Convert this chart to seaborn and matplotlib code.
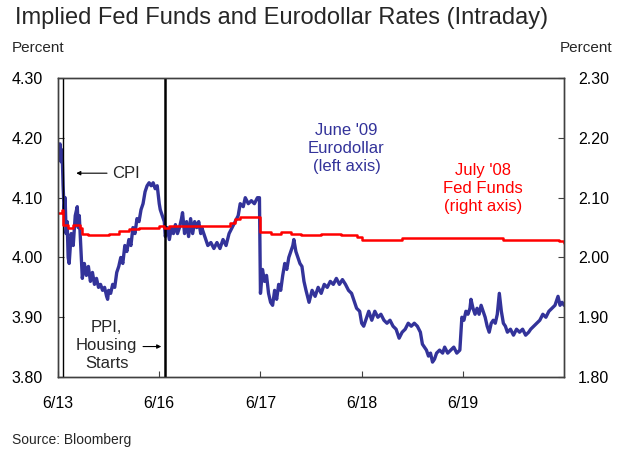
import numpy as np
import pandas as pd
import matplotlib
matplotlib.use("Agg")
import matplotlib.pyplot as plt
import seaborn as sns

# ------------------------------------------------------------
# data (time in trading days from 6/13 open)
# ------------------------------------------------------------
ed_t = [0.00, 0.01, 0.02, 0.03, 0.04, 0.05, 0.06, 0.07, 0.08, 0.09, 0.10, 0.11,
        0.13, 0.15, 0.17, 0.19, 0.20, 0.21, 0.23, 0.24, 0.26, 0.28, 0.30, 0.32,
        0.34, 0.36, 0.38, 0.40, 0.42, 0.44, 0.46, 0.48, 0.49, 0.50, 0.52, 0.54,
        0.56, 0.58, 0.60, 0.62, 0.64, 0.66, 0.68, 0.70, 0.72, 0.74, 0.76, 0.78,
        0.80, 0.82, 0.84, 0.86, 0.88, 0.90, 0.92, 0.94, 0.96, 0.98, 1.00, 1.01,
        1.03, 1.05, 1.06, 1.08, 1.10, 1.12, 1.14, 1.16, 1.18, 1.20, 1.22, 1.23,
        1.25, 1.27, 1.29, 1.31, 1.33, 1.35, 1.37, 1.39, 1.41, 1.42, 1.45, 1.48,
        1.51, 1.54, 1.57, 1.60, 1.63, 1.66, 1.69, 1.72, 1.75, 1.78, 1.80, 1.83,
        1.85, 1.88, 1.91, 1.94, 1.97, 1.99, 2.00, 2.02, 2.04, 2.06, 2.08, 2.10,
        2.12, 2.14, 2.16, 2.18, 2.20, 2.22, 2.24, 2.26, 2.28, 2.30, 2.32, 2.33,
        2.35, 2.37, 2.39, 2.41, 2.43, 2.45, 2.48, 2.51, 2.54, 2.57, 2.60, 2.63,
        2.66, 2.69, 2.72, 2.75, 2.78, 2.81, 2.84, 2.87, 2.90, 2.92, 2.95, 2.98,
        3.00, 3.02, 3.04, 3.07, 3.10, 3.13, 3.16, 3.19, 3.22, 3.25, 3.28, 3.31,
        3.34, 3.37, 3.40, 3.43, 3.46, 3.49, 3.52, 3.55, 3.58, 3.60, 3.62, 3.64,
        3.66, 3.68, 3.70, 3.72, 3.74, 3.77, 3.80, 3.82, 3.85, 3.88, 3.91, 3.94,
        3.97, 3.99, 4.01, 4.03, 4.05, 4.07, 4.08, 4.10, 4.12, 4.14, 4.16, 4.18,
        4.20, 4.22, 4.24, 4.26, 4.28, 4.30, 4.32, 4.34, 4.36, 4.38, 4.40, 4.42,
        4.44, 4.47, 4.50, 4.53, 4.56, 4.59, 4.62, 4.65, 4.67, 4.70, 4.73, 4.76,
        4.79, 4.82, 4.85, 4.88, 4.91, 4.94, 4.96, 4.98, 5.00]
ed_rate = [4.19, 4.17, 4.19, 4.16, 4.18, 4.12, 4.08, 4.10, 4.04, 4.06, 4.00, 3.99,
           4.04, 4.02, 4.07, 4.085, 4.05, 4.07, 4.00, 3.965, 3.99, 3.97, 3.985, 3.96,
           3.975, 3.955, 3.965, 3.95, 3.955, 3.945, 3.95, 3.935, 3.93, 3.945, 3.94, 3.955,
           3.95, 3.975, 3.985, 4.00, 3.99, 4.02, 4.01, 4.03, 4.02, 4.05, 4.04, 4.065,
           4.06, 4.08, 4.09, 4.11, 4.12, 4.125, 4.12, 4.125, 4.115, 4.12, 4.09, 4.08,
           4.07, 4.06, 4.035, 4.05, 4.03, 4.05, 4.04, 4.055, 4.04, 4.05, 4.065, 4.075,
           4.04, 4.06, 4.035, 4.065, 4.04, 4.06, 4.05, 4.06, 4.04, 4.05, 4.035, 4.02,
           4.025, 4.015, 4.025, 4.015, 4.03, 4.02, 4.04, 4.05, 4.06, 4.07, 4.09, 4.085,
           4.10, 4.09, 4.095, 4.09, 4.10, 4.10, 3.94, 3.98, 3.96, 3.97, 3.94, 3.925,
           3.92, 3.945, 3.93, 3.955, 3.945, 3.97, 3.99, 3.98, 4.00, 4.01, 4.02, 4.03,
           4.01, 4.00, 3.99, 3.985, 3.96, 3.945, 3.925, 3.945, 3.935, 3.95, 3.94, 3.955,
           3.95, 3.96, 3.955, 3.965, 3.955, 3.963, 3.955, 3.945, 3.94, 3.93, 3.915, 3.91,
           3.89, 3.885, 3.895, 3.91, 3.895, 3.91, 3.90, 3.905, 3.895, 3.89, 3.895, 3.885,
           3.88, 3.865, 3.875, 3.88, 3.89, 3.885, 3.89, 3.885, 3.875, 3.855, 3.85, 3.845,
           3.835, 3.84, 3.825, 3.83, 3.84, 3.845, 3.84, 3.85, 3.84, 3.845, 3.85, 3.84,
           3.845, 3.90, 3.895, 3.91, 3.905, 3.915, 3.93, 3.915, 3.905, 3.915, 3.905, 3.92,
           3.91, 3.90, 3.885, 3.875, 3.89, 3.895, 3.89, 3.905, 3.94, 3.91, 3.89, 3.885,
           3.875, 3.88, 3.87, 3.88, 3.875, 3.88, 3.87, 3.875, 3.88, 3.885, 3.89, 3.895,
           3.905, 3.90, 3.91, 3.915, 3.92, 3.935, 3.92, 3.925, 3.92]

ff_t = [0.00, 0.04, 0.05, 0.10, 0.15, 0.22, 0.24, 0.30, 0.40, 0.50, 0.60, 0.70,
        0.80, 0.90, 1.00, 1.05, 1.10, 1.30, 1.50, 1.70, 1.75, 1.80, 1.95, 2.00,
        2.10, 2.20, 2.30, 2.40, 2.60, 2.80, 2.95, 3.00, 3.20, 3.40, 3.60, 3.80,
        4.00, 4.20, 4.40, 4.60, 4.80, 4.95, 5.00]
ff_rate = [2.075, 2.08, 2.055, 2.05, 2.055, 2.05, 2.04, 2.037, 2.038, 2.04, 2.045, 2.047,
           2.05, 2.05, 2.052, 2.05, 2.052, 2.053, 2.053, 2.058, 2.065, 2.068, 2.068, 2.042,
           2.04, 2.042, 2.04, 2.037, 2.04, 2.038, 2.035, 2.03, 2.03, 2.032, 2.032, 2.033,
           2.032, 2.033, 2.03, 2.03, 2.03, 2.028, 2.025]

day_ticks = [0, 1, 2, 3, 4]
day_labels = ["6/13", "6/16", "6/17", "6/18", "6/19"]
left_ticks = [3.80, 3.90, 4.00, 4.10, 4.20, 4.30]
right_ticks = [1.80, 1.90, 2.00, 2.10, 2.20, 2.30]
events = [0.05, 1.06]

BLUE = "#33339A"
RED = "#FF0000"

sns.set_style("ticks")
plt.rcParams["font.family"] = ["Liberation Sans", "DejaVu Sans"]
plt.rcParams.update({
    "axes.edgecolor": "#404040",
    "axes.linewidth": 1.0,
    "xtick.direction": "in",
    "ytick.direction": "in",
    "xtick.major.size": 4,
    "ytick.major.size": 4,
})

ed = pd.DataFrame({"t": ed_t, "rate": ed_rate})
ff = pd.DataFrame({"t": ff_t, "rate": ff_rate})

fig = plt.figure(figsize=(6.24, 4.57), dpi=100)
ax = fig.add_axes([0.093, 0.175, 0.811, 0.654])
ax2 = ax.twinx()

sns.lineplot(data=ed, x="t", y="rate", ax=ax, color=BLUE, linewidth=2.4)
sns.lineplot(data=ff, x="t", y="rate", ax=ax2, color=RED, linewidth=1.8,
             drawstyle="steps-post")

for i, ev in enumerate(events):
    ax.axvline(ev, color="black", linewidth=1.0 if i == 0 else 1.8, zorder=5)

ax.set_xlim(0, 5)
ax.set_ylim(3.80, 4.30)
ax2.set_ylim(1.80, 2.30)
ax.set_xticks(day_ticks)
ax.set_xticklabels(day_labels)
ax.set_yticks(left_ticks)
ax.set_yticklabels([f"{v:.2f}" for v in left_ticks])
ax2.set_yticks(right_ticks)
ax2.set_yticklabels([f"{v:.2f}" for v in right_ticks])
ax.set_xlabel("")
ax.set_ylabel("")
ax2.set_ylabel("")
ax.tick_params(axis="x", labelsize=11.5, pad=14, colors="#404040", labelcolor="black")
ax.tick_params(axis="y", labelsize=11.5, pad=11, colors="#404040", labelcolor="black")
ax2.tick_params(axis="y", labelsize=11.5, pad=10, colors="#404040", labelcolor="black")
for sp in ax.spines.values():
    sp.set_visible(True)
for sp in ax2.spines.values():
    sp.set_visible(True)

# annotations
ax.text(2.85, 4.183, "June '09\nEurodollar\n(left axis)", color=BLUE, fontsize=12,
        ha="center", va="center", linespacing=1.25)
ax2.text(4.20, 2.116, "July '08\nFed Funds\n(right axis)", color=RED, fontsize=12,
         ha="center", va="center", linespacing=1.25)
ax.annotate("CPI", xy=(0.18, 4.141), xytext=(0.53, 4.141), fontsize=12,
            ha="left", va="center",
            arrowprops=dict(arrowstyle="-|>", color="black", lw=0.8, mutation_scale=6,
                            shrinkA=1, shrinkB=0))
ax.text(0.48, 3.853, "PPI,\nHousing\nStarts", fontsize=12, ha="center", va="center",
        linespacing=1.25)
ax.annotate("", xy=(1.02, 3.851), xytext=(0.84, 3.851),
            arrowprops=dict(arrowstyle="-|>", color="black", lw=0.8, mutation_scale=6,
                            shrinkA=0, shrinkB=0))

fig.text(0.024, 0.96, "Implied Fed Funds and Eurodollar Rates (Intraday)",
         fontsize=17, ha="left", va="center")
fig.text(0.019, 0.895, "Percent", fontsize=11, ha="left", va="center")
fig.text(0.981, 0.895, "Percent", fontsize=11, ha="right", va="center")
fig.text(0.019, 0.037, "Source: Bloomberg", fontsize=10, ha="left", va="center")

fig.savefig("out.png", dpi=100)
